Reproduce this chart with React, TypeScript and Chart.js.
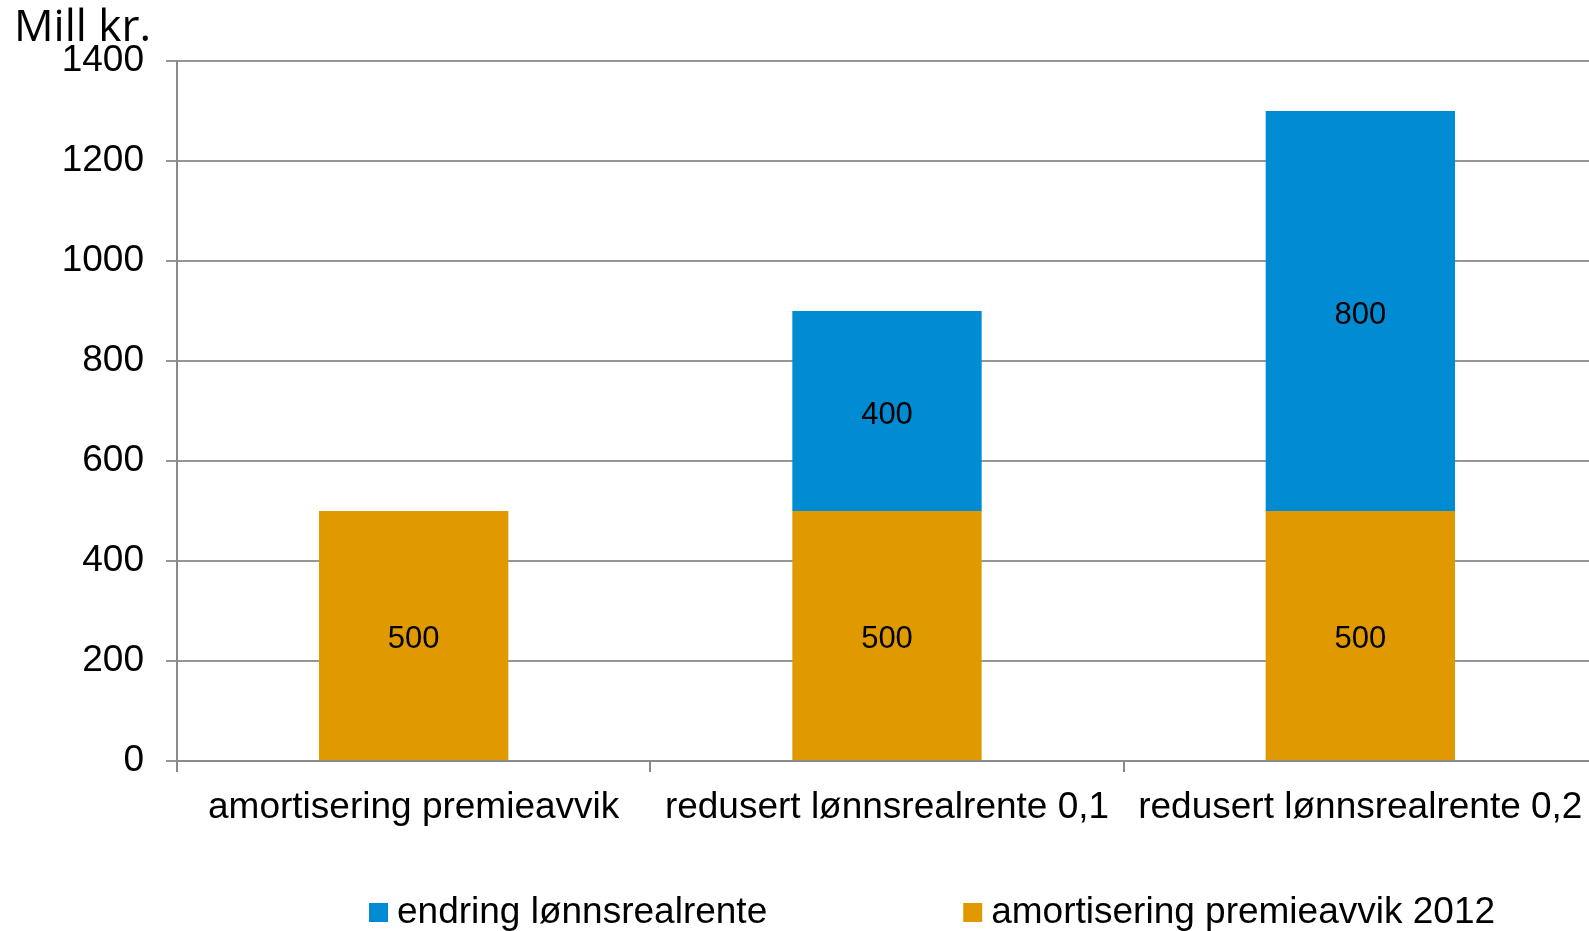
import React, { useEffect, useRef } from "react";
import { Chart, registerables } from "chart.js";

Chart.register(...registerables);

const categories = [
  "amortisering premieavvik",
  "redusert lønnsrealrente 0,1",
  "redusert lønnsrealrente 0,2",
];
const amortiseringValues = [500, 500, 500];
const endringValues: (number | null)[] = [null, 400, 800];
const seriesNames = ["amortisering premieavvik 2012", "endring lønnsrealrente"];
const seriesColors = ["#E09A00", "#008BD3"];
const yTickMax = 1400;
const yTickStep = 200;
const unitTitle = "Mill kr.";

const FONT = "'Liberation Sans', Arial, sans-serif";
const CANVAS_W = 1597;
const CANVAS_H = 931;

const dataLabelPlugin = {
  id: "dataLabels",
  afterDatasetsDraw(chart: any) {
    const ctx = chart.ctx;
    ctx.save();
    ctx.font = `31px ${FONT}`;
    ctx.fillStyle = "#000";
    ctx.textAlign = "center";
    ctx.textBaseline = "middle";
    chart.data.datasets.forEach((ds: any, di: number) => {
      const meta = chart.getDatasetMeta(di);
      meta.data.forEach((el: any, i: number) => {
        const v = ds.data[i];
        if (v === null || v === undefined || v === 0) return;
        const props = el.getProps(["x", "y", "base"], true);
        ctx.fillText(String(v), props.x, (props.y + props.base) / 2 + 4);
      });
    });
    ctx.restore();
  },
};

const legendPlugin = {
  id: "customLegend",
  afterDraw(chart: any) {
    const ctx = chart.ctx;
    ctx.save();
    ctx.font = `37px ${FONT}`;
    ctx.textAlign = "left";
    ctx.textBaseline = "middle";
    const items = chart.data.datasets.map((ds: any) => ({ text: ds.label, color: ds.backgroundColor })).reverse();
    let x = 369;
    const yMid = 912;
    items.forEach((it: any) => {
      ctx.fillStyle = it.color;
      ctx.fillRect(x, yMid - 9, 19, 19);
      ctx.fillStyle = "#000";
      ctx.fillText(it.text, x + 28, yMid + 1);
      const w = ctx.measureText(it.text).width;
      x += 28 + w + 196;
    });
    ctx.restore();
  },
};

export default function App() {
  const ref = useRef<HTMLCanvasElement | null>(null);

  useEffect(() => {
    document.body.style.margin = "0";
    document.body.style.overflow = "hidden";
    if (!ref.current) return;
    const chart = new Chart(ref.current, {
      type: "bar",
      data: {
        labels: categories,
        datasets: [
          {
            label: seriesNames[0],
            data: amortiseringValues,
            backgroundColor: seriesColors[0],
            borderWidth: 0,
            barPercentage: 0.4,
            categoryPercentage: 1,
          },
          {
            label: seriesNames[1],
            data: endringValues,
            backgroundColor: seriesColors[1],
            borderWidth: 0,
            barPercentage: 0.4,
            categoryPercentage: 1,
          },
        ],
      },
      options: {
        animation: false,
        responsive: false,
        devicePixelRatio: 1,
        layout: { padding: { left: 14, right: 0, top: 0, bottom: 0 } },
        plugins: {
          legend: { display: false },
          tooltip: { enabled: false },
          title: {
            display: true,
            text: unitTitle,
            align: "start",
            color: "#000",
            font: { family: "'Open Sans', 'Noto Sans', sans-serif", size: 44, weight: "normal", lineHeight: 1.0 },
            padding: { top: 6, bottom: 11 },
          },
        },
        scales: {
          x: {
            stacked: true,
            offset: true,
            grid: {
              offset: true,
              drawOnChartArea: false,
              drawTicks: true,
              tickLength: 11,
              color: "#8a8a8a",
              lineWidth: 2,
            },
            border: { display: true, color: "#8a8a8a", width: 2 },
            ticks: {
              color: "#000",
              font: { family: FONT, size: 37, lineHeight: 1.2 },
              padding: 14,
              maxRotation: 0,
              autoSkip: false,
            },
            afterFit: (scale: any) => {
              scale.height = 170;
            },
          },
          y: {
            stacked: true,
            min: 0,
            max: yTickMax,
            grid: {
              color: "#969696",
              lineWidth: 2,
              drawTicks: true,
              tickLength: 11,
            },
            border: { display: true, color: "#8a8a8a", width: 2 },
            ticks: {
              stepSize: yTickStep,
              color: "#000",
              font: { family: FONT, size: 37 },
              padding: 22,
              callback: (v: any) => String(v),
            },
            afterFit: (scale: any) => {
              scale.width = 163;
            },
          },
        },
      },
      plugins: [dataLabelPlugin, legendPlugin],
    } as any);
    return () => chart.destroy();
  }, []);

  return (
    <div style={{ width: 1589, height: 931, position: "relative", overflow: "hidden" }}>
      <canvas ref={ref} width={CANVAS_W} height={CANVAS_H} style={{ display: "block" }} />
    </div>
  );
}
